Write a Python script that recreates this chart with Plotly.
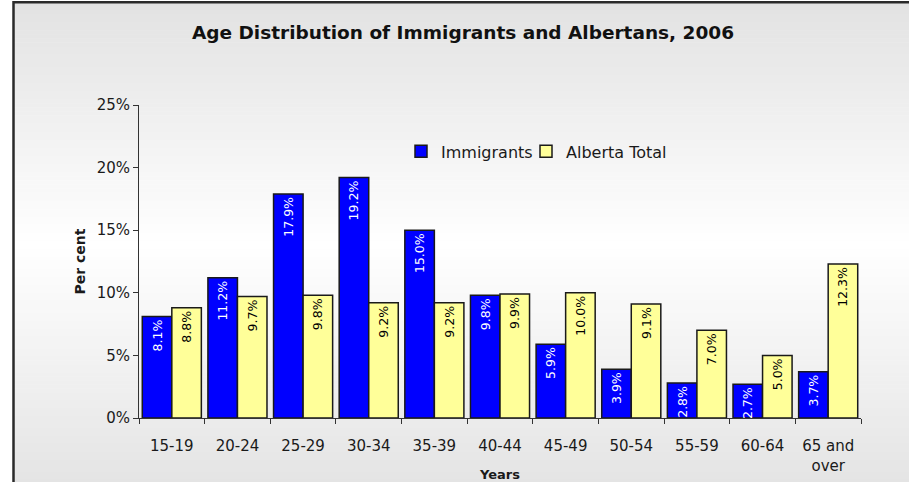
import plotly.graph_objects as go

# Age groups and shares (per cent) for 2006
age_groups = ["15-19", "20-24", "25-29", "30-34", "35-39", "40-44",
              "45-49", "50-54", "55-59", "60-64", "65 and<br>over"]
immigrants = [8.1, 11.2, 17.9, 19.2, 15.0, 9.8, 5.9, 3.9, 2.8, 2.7, 3.7]
alberta_total = [8.8, 9.7, 9.8, 9.2, 9.2, 9.9, 10.0, 9.1, 7.0, 5.0, 12.3]
y_ticks = [0, 5, 10, 15, 20, 25]
y_tick_labels = [f"{v}%" for v in y_ticks]

W, H = 909, 482
ML, MR, MT, MB = 139, 48, 104.5, 63.7
PW, PH = W - ML - MR, H - MT - MB

FONT = "DejaVu Sans"


def px_x(px):
    return (px - ML) / PW


def px_y(py):
    return 1 - (py - MT) / PH


fig = go.Figure()

fig.add_trace(go.Bar(
    name="Immigrants", x=age_groups, y=immigrants, legend="legend",
    marker=dict(color="#0000FF", line=dict(color="#1a1a1a", width=1.5)),
    texttemplate="%{y:.1f}%", textposition="inside", insidetextanchor="end",
    textangle=-90, constraintext="none",
    insidetextfont=dict(family=FONT, size=12.5, color="white"),
))
fig.add_trace(go.Bar(
    name="Alberta Total", x=age_groups, y=alberta_total, legend="legend2",
    marker=dict(color="#FFFF99", line=dict(color="#1a1a1a", width=1.5)),
    texttemplate="%{y:.1f}%", textposition="inside", insidetextanchor="end",
    textangle=-90, constraintext="none",
    insidetextfont=dict(family=FONT, size=12.5, color="black"),
))

# vertical background gradient: grey -> white -> grey
shapes = []
x0, x1 = px_x(13), px_x(W + 2)
top, mid, bot = 1, 245, H + 2
c_top, c_mid, c_bot = 226, 255, 228
n = 60
for i in range(n):
    ya = top + (mid - top) * i / n
    yb = top + (mid - top) * (i + 1) / n
    c = round(c_top + (c_mid - c_top) * (i + 0.5) / n)
    shapes.append(dict(type="rect", xref="paper", yref="paper", layer="below",
                       x0=x0, x1=x1, y0=px_y(yb + 0.5), y1=px_y(ya),
                       fillcolor=f"rgb({c},{c},{c})", line=dict(width=0)))
for i in range(n):
    ya = mid + (bot - mid) * i / n
    yb = mid + (bot - mid) * (i + 1) / n
    c = round(c_mid + (c_bot - c_mid) * (i + 0.5) / n)
    shapes.append(dict(type="rect", xref="paper", yref="paper", layer="below",
                       x0=x0, x1=x1, y0=px_y(yb + 0.5), y1=px_y(ya),
                       fillcolor=f"rgb({c},{c},{c})", line=dict(width=0)))
# outer frame
shapes.append(dict(type="rect", xref="paper", yref="paper", layer="above",
                   x0=px_x(13.5), x1=px_x(W + 5), y0=px_y(H + 5), y1=px_y(1.5),
                   line=dict(color="#2a2a2a", width=2.5)))

legend_common = dict(orientation="h", yanchor="middle", y=px_y(151),
                     xanchor="left", bgcolor="rgba(0,0,0,0)",
                     font=dict(family=FONT, size=16, color="#1a1a1a"),
                     itemwidth=30)

fig.update_layout(
    width=W, height=H,
    margin=dict(l=ML, r=MR, t=MT, b=MB, pad=0, autoexpand=False),
    paper_bgcolor="white", plot_bgcolor="rgba(0,0,0,0)",
    font=dict(family=FONT, size=15, color="#1a1a1a"),
    title=dict(text="<b>Age Distribution of Immigrants and Albertans, 2006</b>",
               x=463 / W, xref="container", xanchor="center",
               y=1 - 33 / H, yref="container", yanchor="middle",
               font=dict(family=FONT, size=18.5, color="#111")),
    barmode="group", bargap=0.1, bargroupgap=0,
    shapes=shapes,
    showlegend=True,
    legend=dict(legend_common, x=px_x(401)),
    legend2=dict(legend_common, x=px_x(526)),
    xaxis=dict(showline=True, linecolor="#333", linewidth=1,
               ticks="outside", tickson="boundaries", ticklen=5,
               tickcolor="#333", showgrid=False, automargin=False,
               ticklabelstandoff=14,
               tickfont=dict(family=FONT, size=15),
               title=dict(text="<b>Years</b>", standoff=5,
                          font=dict(family=FONT, size=13))),
    yaxis=dict(range=[0, 25], tickvals=y_ticks, ticktext=y_tick_labels,
               showline=True, linecolor="#333", linewidth=1,
               ticks="outside", ticklen=5, tickcolor="#333",
               showgrid=False, zeroline=False, automargin=False,
               tickfont=dict(family=FONT, size=15),
               title=dict(text="<b>Per cent</b>", standoff=7,
                          font=dict(family=FONT, size=14))),
)

fig.write_html("out.html")
